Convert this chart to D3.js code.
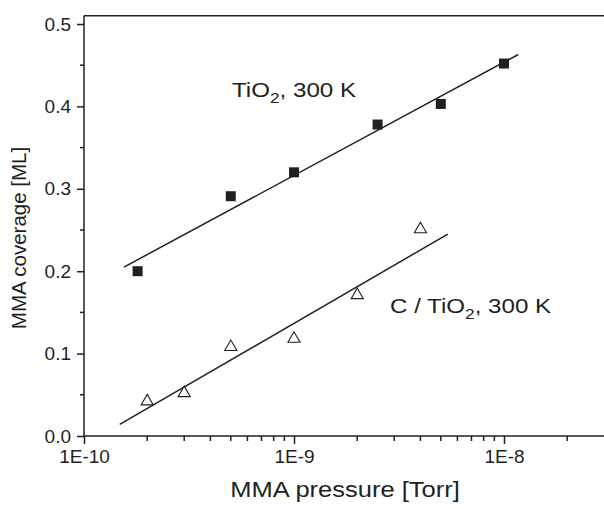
<!DOCTYPE html>
<html>
<head>
<meta charset="utf-8">
<script src="https://cdn.jsdelivr.net/npm/d3@7"></script>
<style>
	body { margin: 0; background: #fff; }
	svg text { font-family: 'Liberation Sans', Arial, sans-serif; fill: #231f20; }
</style>
</head>
<body>
<svg id="chart" width="604" height="509"></svg>
<script>
// DATA
const tio2_pressure = [1.8e-10, 5e-10, 1e-9, 2.5e-9, 5e-9, 1e-8]
const tio2_coverage = [0.200, 0.291, 0.320, 0.378, 0.403, 0.452]
const ctio2_pressure = [2e-10, 3e-10, 5e-10, 1e-9, 2e-9, 4e-9]
const ctio2_coverage = [0.042, 0.052, 0.108, 0.118, 0.171, 0.251]
// fit lines, end points
const tio2_fit = [[1.55e-10, 0.205], [1.17e-8, 0.463]]
const ctio2_fit = [[1.48e-10, 0.014], [5.4e-9, 0.245]]
const y_ticks = [0.0, 0.1, 0.2, 0.3, 0.4, 0.5]
const x_ticks = [1e-10, 1e-9, 1e-8]
const x_labels = ['1E-10', '1E-9', '1E-8']

const ink = '#231f20'
const svg = d3.select('svg#chart')
const width = 604

const x = d3.scaleLog().domain([1e-10, 3e-8]).range([84, 84 + 210 * Math.log10(300)])
const y = d3.scaleLinear().domain([0, 0.51]).range([436, 436 - 0.51 * 824])

// TOP BORDER
svg.append('line')
	.attr('x1', x.range()[0]).attr('x2', width)
	.attr('y1', y(0.51)).attr('y2', y(0.51))
	.attr('stroke', ink).attr('stroke-width', 1.5)

// Y AXIS
const ymajor = d3.axisLeft(y).tickValues(y_ticks).tickFormat(d3.format('.1f')).tickSize(7).tickPadding(6)
const gy = svg.append('g').attr('transform', `translate(${x.range()[0]},0)`).call(ymajor)
gy.select('.domain').attr('d', `M0,${y(0)}V${y(0.51)}`)
const yminor = d3.range(0.05, 0.5, 0.1)
gy.selectAll('.minor').data(yminor).join('line')
	.attr('class', 'minor')
	.attr('x1', 0).attr('x2', -4)
	.attr('y1', d => y(d)).attr('y2', d => y(d))

// X AXIS
const xmajor = d3.axisBottom(x).tickValues(x_ticks).tickFormat((d, i) => x_labels[i]).tickSize(8).tickPadding(6)
const gx = svg.append('g').attr('transform', `translate(0,${y(0)})`).call(xmajor)
gx.select('.domain').attr('d', `M${x.range()[0]},0H${width}`)
const xminor = []
;[-10, -9, -8].forEach(e => {
	for (let m = 2; m <= 9; m++) {
		const v = m * Math.pow(10, e)
		if (v <= 3e-8) xminor.push(v)
	}
})
gx.selectAll('.minor').data(xminor).join('line')
	.attr('class', 'minor')
	.attr('y1', 0).attr('y2', 5)
	.attr('x1', d => x(d)).attr('x2', d => x(d))

svg.selectAll('.domain, .tick line, .minor').attr('stroke', ink).attr('stroke-width', 1.5)
svg.selectAll('.tick text').style('font-size', '19px').attr('fill', ink)

// AXIS TITLES (the source text is a bit wider than the font, so stretch it)
svg.append('text')
	.attr('transform', 'translate(345,497) scale(1.16,1)')
	.attr('text-anchor', 'middle')
	.style('font-size', '22px')
	.text('MMA pressure [Torr]')
svg.append('text')
	.attr('transform', 'translate(26,238) rotate(-90)')
	.attr('text-anchor', 'middle')
	.style('font-size', '20.5px')
	.text('MMA coverage [ML]')

// FIT LINES
const line = d3.line().x(d => x(d[0])).y(d => y(d[1]))
svg.selectAll('path.fit').data([tio2_fit, ctio2_fit]).join('path')
	.attr('class', 'fit')
	.attr('d', line)
	.attr('fill', 'none').attr('stroke', ink).attr('stroke-width', 1.5)

// POINTS
const tio2 = tio2_pressure.map((p, i) => ({ p, c: tio2_coverage[i] }))
const ctio2 = ctio2_pressure.map((p, i) => ({ p, c: ctio2_coverage[i] }))

svg.selectAll('rect.sq').data(tio2).join('rect')
	.attr('class', 'sq')
	.attr('x', d => x(d.p) - 5).attr('y', d => y(d.c) - 5)
	.attr('width', 10).attr('height', 10)
	.attr('fill', ink)

const tri = d3.symbol().type(d3.symbolTriangle).size(64)
svg.selectAll('path.tri').data(ctio2).join('path')
	.attr('class', 'tri')
	.attr('transform', d => `translate(${x(d.p)},${y(d.c)})`)
	.attr('d', tri)
	.attr('fill', '#fff').attr('stroke', ink).attr('stroke-width', 1.1)

// ANNOTATIONS
const note = (tx, ty, pre, post) => {
	const t = svg.append('text')
		.attr('transform', `translate(${tx},${ty}) scale(1.15,1)`)
		.style('font-size', '21px')
	t.append('tspan').text(pre)
	t.append('tspan').attr('dy', 6).style('font-size', '15px').text('2')
	t.append('tspan').attr('dy', -6).text(post)
}
note(232, 97, 'TiO', ', 300 K')
note(390, 313, 'C / TiO', ', 300 K')
</script>
</body>
</html>
